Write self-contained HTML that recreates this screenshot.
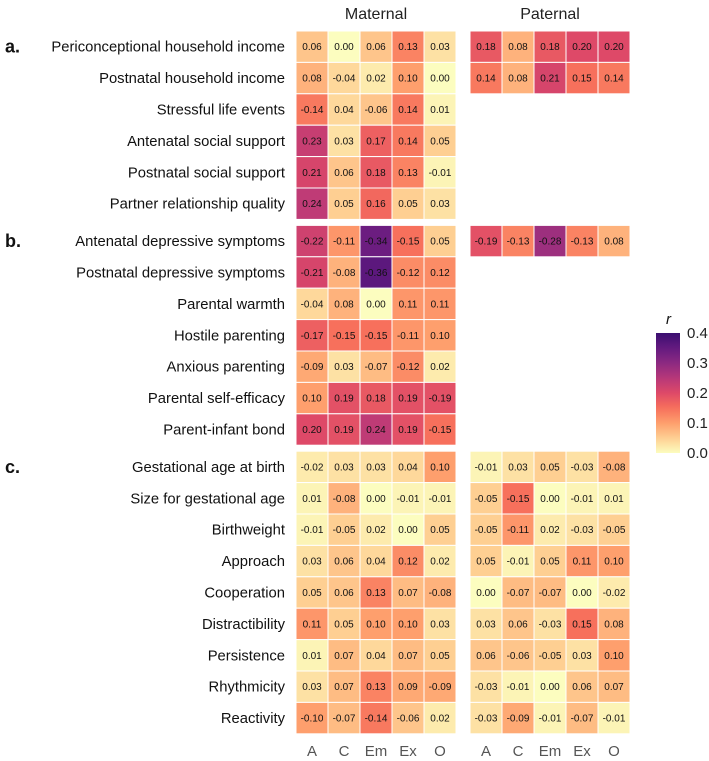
<!DOCTYPE html>
<html><head><meta charset="utf-8">
<style>
html,body{margin:0;padding:0;background:#fff;}
svg{display:block;font-family:"Liberation Sans",Arial,sans-serif;}
</style></head>
<body>
<svg id="chart" width="709" height="761"></svg>
<script>
const rowLabels = ["Periconceptional household income","Postnatal household income","Stressful life events","Antenatal social support","Postnatal social support","Partner relationship quality","Antenatal depressive symptoms","Postnatal depressive symptoms","Parental warmth","Hostile parenting","Anxious parenting","Parental self-efficacy","Parent-infant bond","Gestational age at birth","Size for gestational age","Birthweight","Approach","Cooperation","Distractibility","Persistence","Rhythmicity","Reactivity"];
const rowGroups = [0,0,0,0,0,0,1,1,1,1,1,1,1,2,2,2,2,2,2,2,2,2];
const groupLetters = ["a.","b.","c."];
const columns = ["A","C","Em","Ex","O"];
const maternal = [
[0.06,0.00,0.06,0.13,0.03],
[0.08,-0.04,0.02,0.10,0.00],
[-0.14,0.04,-0.06,0.14,0.01],
[0.23,0.03,0.17,0.14,0.05],
[0.21,0.06,0.18,0.13,-0.01],
[0.24,0.05,0.16,0.05,0.03],
[-0.22,-0.11,-0.34,-0.15,0.05],
[-0.21,-0.08,-0.36,-0.12,0.12],
[-0.04,0.08,0.00,0.11,0.11],
[-0.17,-0.15,-0.15,-0.11,0.10],
[-0.09,0.03,-0.07,-0.12,0.02],
[0.10,0.19,0.18,0.19,-0.19],
[0.20,0.19,0.24,0.19,-0.15],
[-0.02,0.03,0.03,0.04,0.10],
[0.01,-0.08,0.00,-0.01,-0.01],
[-0.01,-0.05,0.02,0.00,0.05],
[0.03,0.06,0.04,0.12,0.02],
[0.05,0.06,0.13,0.07,-0.08],
[0.11,0.05,0.10,0.10,0.03],
[0.01,0.07,0.04,0.07,0.05],
[0.03,0.07,0.13,0.09,-0.09],
[-0.10,-0.07,-0.14,-0.06,0.02]];
const paternal = [
[0.18,0.08,0.18,0.20,0.20],
[0.14,0.08,0.21,0.15,0.14],
null,null,null,null,
[-0.19,-0.13,-0.28,-0.13,0.08],
null,null,null,null,null,null,
[-0.01,0.03,0.05,-0.03,-0.08],
[-0.05,-0.15,0.00,-0.01,0.01],
[-0.05,-0.11,0.02,-0.03,-0.05],
[0.05,-0.01,0.05,0.11,0.10],
[0.00,-0.07,-0.07,0.00,-0.02],
[0.03,0.06,-0.03,0.15,0.08],
[0.06,-0.06,-0.05,0.03,0.10],
[-0.03,-0.01,0.00,0.06,0.07],
[-0.03,-0.09,-0.01,-0.07,-0.01]];
const legendTicks = [0.0,0.1,0.2,0.3,0.4];

const NS="http://www.w3.org/2000/svg";
const svg=document.getElementById("chart");
function mk(t,a,p){const e=document.createElementNS(NS,t);for(const k in a)e.setAttribute(k,a[k]);(p||svg).appendChild(e);return e;}
const stops=[[0.2,[59,15,112]],[0.3,[100,26,128]],[0.4,[140,41,129]],[0.5,[183,55,121]],[0.6,[222,73,104]],[0.7,[247,112,92]],[0.8,[254,159,109]],[0.9,[254,207,146]],[1.0,[252,253,191]]];
function color(v){let t=1-0.8*Math.min(Math.abs(v),0.4)/0.4;
 for(let i=0;i<stops.length-1;i++){const a=stops[i],b=stops[i+1];if(t<=b[0]){const f=(t-a[0])/(b[0]-a[0]);const c=a[1].map((x,j)=>Math.round(x+(b[1][j]-x)*f));return `rgb(${c})`;}}
 return "rgb(252,253,191)";}
const rowH=31.4, gap=6, top0=31, colW=32;
function yTop(i){return top0+i*rowH+rowGroups[i]*gap;}
function xCol(panel,j){return (panel===0?296:470)+j*colW;}
const vmax=0.4, cbTop=333, cbBot=453;
function yLeg(v){return cbBot-(v/vmax)*(cbBot-cbTop);}

let t=mk("text",{x:376,y:19,"text-anchor":"middle","font-size":16,fill:"#222"});t.textContent="Maternal";


t=mk("text",{x:550,y:19,"text-anchor":"middle","font-size":16,fill:"#222"});t.textContent="Paternal";



rowLabels.forEach((lab,i)=>{
 const y=yTop(i)+rowH/2;
 const e=mk("text",{x:285,y:y+5,"text-anchor":"end","font-size":14.8,fill:"#111"});e.textContent=lab;
 
 
});
[0,6,13].forEach((r,g)=>{
 const e=mk("text",{x:5,y:yTop(r)+rowH/2+6,"font-size":18,"font-weight":"bold",fill:"#111"});e.textContent=groupLetters[g];
 
 
});
[maternal,paternal].forEach((data,p)=>{
 data.forEach((row,i)=>{ if(!row) return;
  row.forEach((v,j)=>{
   const x=xCol(p,j), y=yTop(i);
   const r=mk("rect",{x:x,y:y,width:colW,height:rowH,fill:color(v),stroke:"#fff","stroke-width":1});
   
   
   const tx=mk("text",{x:x+colW/2,y:y+rowH/2+3.5,"text-anchor":"middle","font-size":10,fill:"#111"});tx.textContent=v.toFixed(2);
   
   
  });
 });
 columns.forEach((c,j)=>{
  const e=mk("text",{x:xCol(p,j)+colW/2,y:756,"text-anchor":"middle","font-size":15,fill:"#555"});e.textContent=c;
  
  
 });
});
const defs=mk("defs",{});const lg=mk("linearGradient",{id:"cb",x1:0,y1:1,x2:0,y2:0},defs);
for(let k=0;k<=20;k++){const v=vmax*k/20;mk("stop",{offset:(k/20),"stop-color":color(v)},lg);}
const cb=mk("rect",{x:656,y:cbTop,width:24,height:cbBot-cbTop,fill:"url(#cb)"});


t=mk("text",{x:666,y:324,"font-size":15,"font-style":"italic",fill:"#111"});t.textContent="r";


legendTicks.forEach(v=>{
 const e=mk("text",{x:687,y:yLeg(v)+5,"font-size":15,fill:"#222"});e.textContent=v.toFixed(1);
 
 
});
</script>
</body></html>
